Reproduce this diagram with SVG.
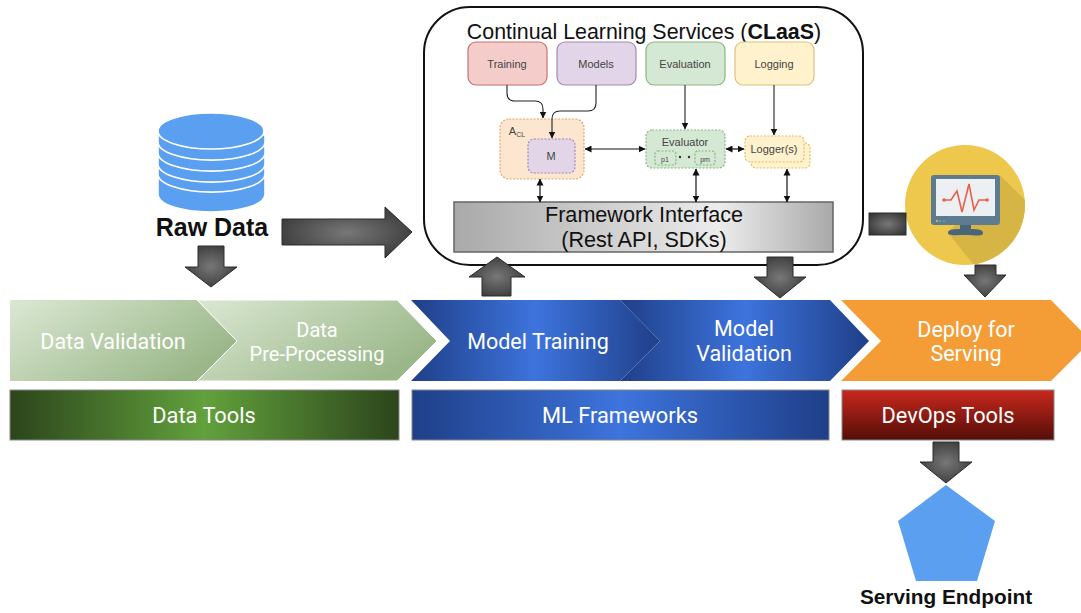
<svg xmlns="http://www.w3.org/2000/svg" width="1081" height="613" viewBox="0 0 1081 613">
<style>
text{font-family:"Liberation Sans",Arial,sans-serif;text-anchor:middle}
.r{font-family:Roboto,"Liberation Sans",sans-serif;fill:#fff}
.step{font-size:21.5px}
.tool{font-size:21.8px}
.sm{font-size:11px;fill:#444}
.big{font-size:21.6px;fill:#111}
.lbl{font-weight:bold;fill:#111}
.b{stroke-width:1.2}
.d{stroke-dasharray:2 1.5;stroke-width:1.2}
.ga{fill:url(#gray);stroke:#2c2c2c;stroke-width:1}
.w2{fill:none;stroke:#111;stroke-width:1.2;marker-start:url(#as);marker-end:url(#ae)}
.e{fill:none;stroke:#222;stroke-width:1.1;marker-end:url(#ae)}
.disk{fill:#5b9ff0;stroke:#fff;stroke-width:1.6}
</style>
<defs>
<radialGradient id="gray" cx=".5" cy=".5" r=".6"><stop offset="0" stop-color="#777"/><stop offset="1" stop-color="#383838"/></radialGradient>
<linearGradient id="fw"><stop offset="0" stop-color="#a9a9a9"/><stop offset=".7" stop-color="#ececec"/><stop offset="1" stop-color="#a9a9a9"/></linearGradient>
<linearGradient id="ch" x1="0" y1="0" x2="1" y2=".55"><stop offset="0" stop-color="#dbe8d3"/><stop offset="1" stop-color="#9ab789"/></linearGradient>
<linearGradient id="blue"><stop offset="0" stop-color="#1f3f88"/><stop offset=".5" stop-color="#3d74dd"/><stop offset="1" stop-color="#1f3f88"/></linearGradient>
<linearGradient id="green"><stop offset="0" stop-color="#2c451b"/><stop offset=".5" stop-color="#62a13c"/><stop offset="1" stop-color="#2c451b"/></linearGradient>
<linearGradient id="red" x1="0" y1="0" x2="0" y2="1"><stop offset="0" stop-color="#c9281d"/><stop offset="1" stop-color="#540e08"/></linearGradient>
<marker id="ae" markerWidth="8" markerHeight="8" refX="6.5" refY="3.5" orient="auto" markerUnits="userSpaceOnUse"><path d="M0,0L7,3.5L0,7z" fill="#111"/></marker>
<marker id="as" markerWidth="8" markerHeight="8" refX="0.5" refY="3.5" orient="auto" markerUnits="userSpaceOnUse"><path d="M7,0L0,3.5L7,7z" fill="#111"/></marker>
<clipPath id="cc"><circle cx="965" cy="205" r="60"/></clipPath>
</defs>

<g id="claas">
<rect x="424" y="7" width="439" height="258" rx="46" fill="#fff" stroke="#111" stroke-width="2"/>
<text x="644" y="39" style="font-size:21.4px" fill="#111">Continual Learning Services (<tspan font-weight="bold">CLaaS</tspan>)</text>
</g>

<g id="training"><rect class="b" x="468" y="42" width="79" height="43" rx="8" fill="#f4cdcb" stroke="#c8716d"/><text class="sm" x="507" y="68">Training</text></g>
<g id="models"><rect class="b" x="557" y="42" width="79" height="43" rx="8" fill="#e1d5e7" stroke="#a688b8"/><text class="sm" x="596" y="68">Models</text></g>
<g id="evaluation"><rect class="b" x="646" y="42" width="79" height="43" rx="8" fill="#d5e8d4" stroke="#89b77f"/><text class="sm" x="685" y="68">Evaluation</text></g>
<g id="logging"><rect class="b" x="735" y="42" width="79" height="43" rx="8" fill="#fff2cc" stroke="#dcc27a"/><text class="sm" x="774" y="68">Logging</text></g>

<g id="acl"><rect class="d" x="500" y="119" width="84" height="60" rx="9" fill="#fde6cf" stroke="#e0a869"/><text class="sm" x="517" y="135">A<tspan dy="2" style="font-size:7px">CL</tspan></text></g>
<g id="m"><rect class="d" x="528" y="139" width="47" height="34" rx="6" fill="#e1d5e7" stroke="#a688b8"/><text class="sm" x="551" y="160">M</text></g>
<g id="evaluator"><rect class="d" x="646" y="130" width="79" height="38" rx="6" fill="#d5e8d4" stroke="#89b77f"/><text class="sm" x="685" y="146">Evaluator</text>
<rect class="d" x="655" y="151" width="21" height="14" rx="3" fill="#d5e8d4" stroke="#89b77f"/><text class="sm" x="665" y="162" style="font-size:7px">p1</text>
<rect class="d" x="695" y="151" width="20" height="14" rx="3" fill="#d5e8d4" stroke="#89b77f"/><text class="sm" x="705" y="162" style="font-size:7px">pm</text>
<circle cx="680" cy="157" r="1.2" fill="#333"/><circle cx="689" cy="157" r="1.2" fill="#333"/></g>
<g id="loggers"><rect class="d" x="751" y="143" width="59" height="25" rx="5" fill="#fff2cc" stroke="#e0bf68"/><rect class="d" x="745" y="136" width="59" height="26" rx="5" fill="#fff2cc" stroke="#e0bf68"/><text class="sm" x="774" y="153">Logger(s)</text></g>

<g id="framework"><rect x="454" y="202" width="379" height="50" fill="url(#fw)" stroke="#666" stroke-width="1.5"/>
<text class="big" x="644" y="222">Framework Interface</text><text class="big" x="644" y="247">(Rest API, SDKs)</text></g>

<g id="raw-data">
<path class="disk" d="M158,178V194C158,205 182,212 211,212S265,205 265,194V178z"/>
<path class="disk" d="M158,168V174A53,18 0 0 0 265,174V168z"/>
<path class="disk" d="M158,157V164A53,18 0 0 0 265,164V157z"/>
<path class="disk" d="M158,146V153A53,18 0 0 0 265,153V146z"/>
<path class="disk" d="M158,135V142A53,18 0 0 0 265,142V135z"/>
<ellipse class="disk" cx="211" cy="131" rx="53" ry="18"/>
<text class="lbl" x="212" y="236" style="font-size:25px">Raw Data</text>
</g>

<g id="data-validation"><path d="M10,300H197L237,341L197,381H10z" fill="url(#ch)"/><text class="r step" x="113" y="349">Data Validation</text></g>
<g id="data-preprocessing"><path d="M197,300H397L437,341L397,381H197L237,341z" fill="url(#ch)" stroke="#fff" stroke-width="1"/><text class="r" style="font-size:20px" x="317" y="337">Data</text><text class="r" style="font-size:20px" x="317" y="361">Pre-Processing</text></g>
<g id="model-training"><path d="M411,300H620L660,341L620,381H411L450,341z" fill="url(#blue)"/><text class="r step" x="538" y="349">Model Training</text></g>
<g id="model-validation"><path d="M620,300H830L869,341L830,381H620L660,341z" fill="url(#blue)"/><text class="r step" x="744" y="336">Model</text><text class="r step" x="744" y="361">Validation</text></g>
<g id="deploy"><path d="M841,300H1051L1091,341L1051,381H841L881,341z" fill="#f49d37"/><text class="r step" x="966" y="337">Deploy for</text><text class="r step" x="966" y="361">Serving</text></g>

<g id="data-tools"><rect x="10" y="390" width="389" height="50" fill="url(#green)" stroke="#888"/><text class="r tool" x="204" y="423">Data Tools</text></g>
<g id="ml-frameworks"><rect x="412" y="390" width="417" height="50" fill="url(#blue)" stroke="#888"/><text class="r tool" x="620" y="423">ML Frameworks</text></g>
<g id="devops-tools"><rect x="842" y="390" width="212" height="50" fill="url(#red)" stroke="#888"/><text class="r tool" x="948" y="423">DevOps Tools</text></g>

<g id="monitor">
<circle cx="965" cy="205" r="60" fill="#eec84c"/>
<path clip-path="url(#cc)" d="M1000,175L1030,205V270H978L948,233z" fill="#d6b544"/>
<rect x="931" y="175" width="69" height="50" rx="3" fill="#5f7b8f"/>
<rect x="936" y="179" width="59" height="37" fill="#ecf0f2"/>
<polyline points="944,200 951,200 957,191 962,212 969,184 974,210 979,200 987,200" fill="none" stroke="#e8604c" stroke-width="1.6"/>
<circle cx="944" cy="200" r="1.8" fill="#e8604c"/><circle cx="987" cy="200" r="1.8" fill="#e8604c"/>
<circle cx="937" cy="221" r="1" fill="#eec84c"/><circle cx="940" cy="221" r="1" fill="#4fbf9f"/><circle cx="944" cy="221" r="1" fill="#3fa7d6"/>
<rect x="960" y="225" width="11" height="6" fill="#4a6679"/>
<path d="M948,233C948,229 953,229 965,229S983,229 983,233S975,235 965,235S948,236 948,233z" fill="#4a6679"/>
</g>

<g id="serving-endpoint"><polygon points="946,485 995,521 977,581 916,581 898,521" fill="#5b9ff0"/><text class="lbl" x="946" y="604" style="font-size:20.8px">Serving Endpoint</text></g>

<g id="connectors">
<path class="ga" d="M282,219H385V207L412,232L385,258V245H282z"/>
<path class="ga" d="M198,246H224V267H237L211,287L185,267H198z"/>
<path class="ga" d="M482,296V277H469L497,257L525,277H511V296z"/>
<path class="ga" d="M767,257H793V277H806L780,298L754,277H767z"/>
<path class="ga" d="M975,265H996V275H1006L985,297L964,275H975z"/>
<path class="ga" d="M933,442H959V462H972L946,483L920,462H933z"/>
<rect class="ga" x="869" y="213" width="37" height="22"/>
<path class="e" d="M507,85V93Q507,101 515,101H535Q543,101 543,109V118"/>
<path class="e" d="M596,85V103Q596,111 588,111H560Q552,111 552,119V138"/>
<path class="e" d="M685,85V129"/>
<path class="e" d="M774,85V135"/>
<path class="w2" d="M585,149H645"/>
<path class="w2" d="M726,149H744"/>
<path class="w2" d="M540,179V202"/>
<path class="w2" d="M696,169V202"/>
<path class="w2" d="M787,169V202"/>
</g>
</svg>
